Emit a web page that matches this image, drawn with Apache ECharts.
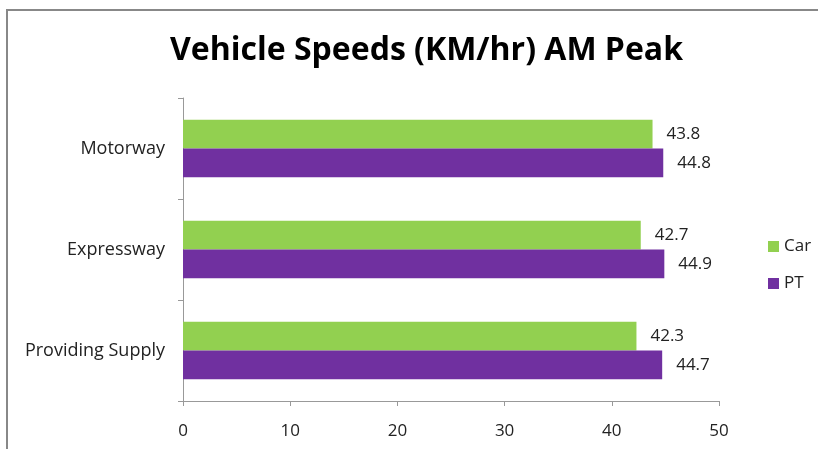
<!DOCTYPE html>
<html>
<head>
<meta charset="utf-8">
<script src="https://cdn.jsdelivr.net/npm/echarts@6/dist/echarts.min.js"></script>
<style>html,body{margin:0;padding:0;background:#fff}#c{width:818px;height:449px}</style>
</head>
<body>
<div id="c"></div>
<script>
var categories = ['Motorway', 'Expressway', 'Providing Supply'];
var carValues = [43.8, 42.7, 42.3];
var ptValues = [44.8, 44.9, 44.7];
var xTicks = [0, 10, 20, 30, 40, 50];

var chart = echarts.init(document.getElementById('c'), null, {renderer: 'canvas'});
var font = '"Open Sans", "Noto Sans", sans-serif';
var labelStyle = {show: true, position: 'right', distance: 14, color: '#222', fontSize: 17, fontFamily: font};
chart.setOption({
  animation: false,
  backgroundColor: '#fff',
  title: {
    text: 'Vehicle Speeds (KM/hr) AM Peak',
    left: 165, top: 30,
    textStyle: {fontFamily: font, fontWeight: 'bold', fontSize: 32, color: '#000'}
  },
  graphic: [{
    type: 'rect', shape: {x: 7, y: 10, width: 830, height: 460},
    style: {fill: 'none', stroke: '#888', lineWidth: 2}, silent: true
  }],
  legend: {
    orient: 'vertical', left: 763, top: 233,
    itemWidth: 11, itemHeight: 11, itemGap: 20,
    textStyle: {fontFamily: font, fontSize: 17, color: '#222'},
    icon: 'rect',
    data: ['Car', 'PT']
  },
  grid: {left: 183, right: 99, top: 98, bottom: 48},
  xAxis: {
    type: 'value', min: xTicks[0], max: xTicks[xTicks.length - 1], interval: 10,
    axisLine: {show: true, lineStyle: {color: '#999'}},
    axisTick: {show: true, length: 5, lineStyle: {color: '#999'}},
    splitLine: {show: false},
    axisLabel: {color: '#222', fontSize: 17, fontFamily: font, margin: 22}
  },
  yAxis: {
    type: 'category', data: categories, inverse: true,
    axisLine: {show: true, lineStyle: {color: '#999'}},
    axisTick: {show: true, length: 5, lineStyle: {color: '#999'}},
    axisLabel: {color: '#222', fontSize: 18, fontFamily: font, margin: 18}
  },
  series: [
    {name: 'Car', type: 'bar', data: carValues, itemStyle: {color: '#92D050'},
     barGap: '0%', barCategoryGap: '43%', label: labelStyle},
    {name: 'PT', type: 'bar', data: ptValues, itemStyle: {color: '#7030A0'},
     barGap: '0%', barCategoryGap: '43%', label: labelStyle}
  ]
});
</script>
</body>
</html>
